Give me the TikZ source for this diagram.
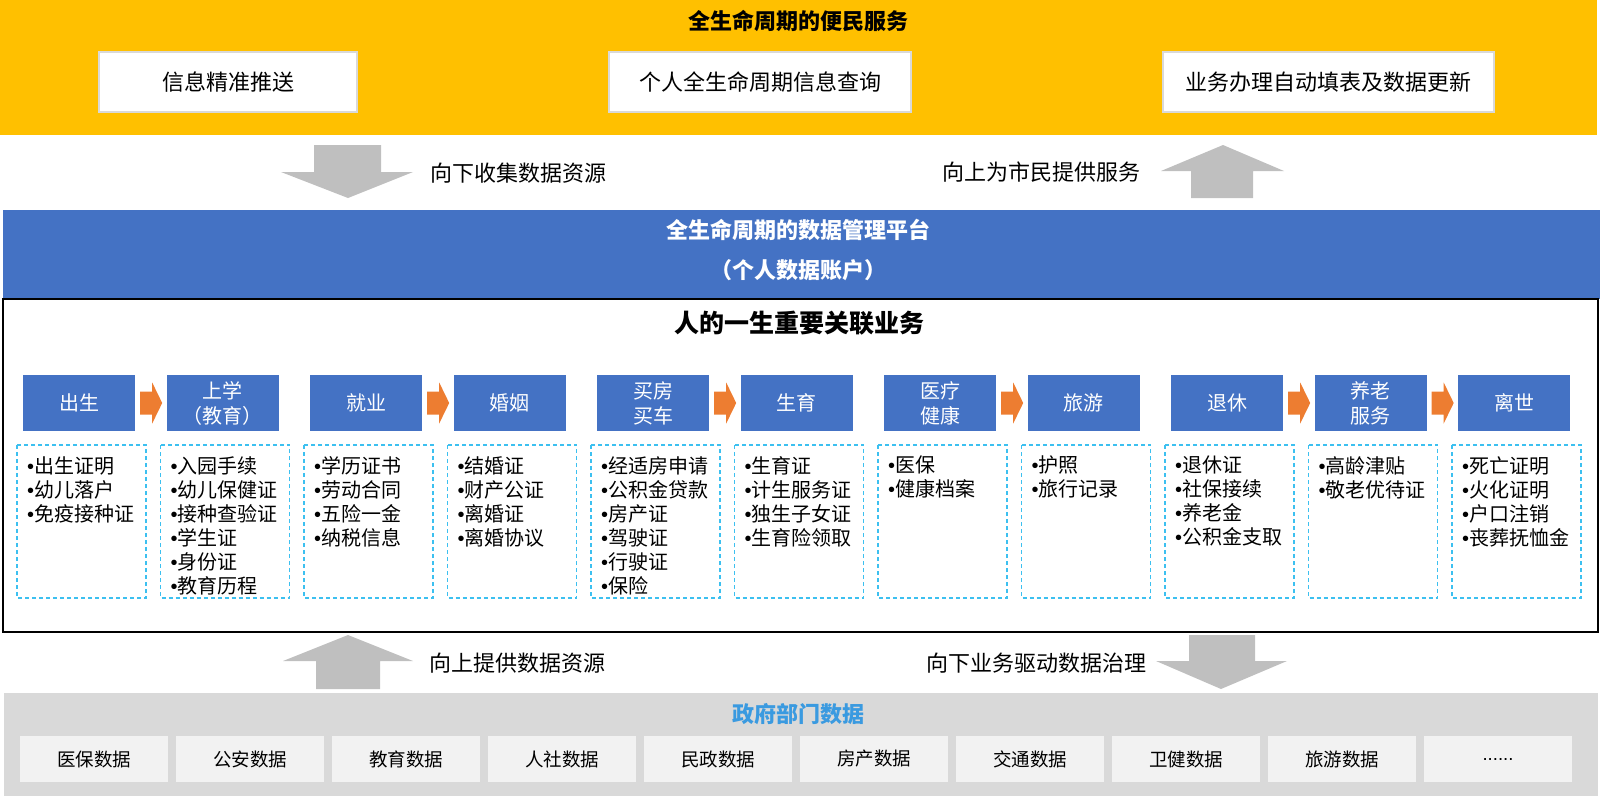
\documentclass[tikz,border=0pt]{standalone}
\usepackage{fontspec}
\setmainfont{Noto Sans CJK SC}
\newfontfamily\latinfont{Liberation Sans}
\usetikzlibrary{calc}
\definecolor{bandyellow}{HTML}{FFC000}
\definecolor{bandblue}{HTML}{4472C4}
\definecolor{flowarrow}{HTML}{ED7D31}
\definecolor{dashcyan}{HTML}{3CC0F0}
\definecolor{bandgray}{HTML}{D9D9D9}
\definecolor{boxgray}{HTML}{F2F2F2}
\definecolor{bigarrow}{HTML}{BFBFBF}
\definecolor{govblue}{HTML}{3A9AE0}
\newcommand\moredata{{\latinfont......}}
\newcommand\itm{{\latinfont•}}
\tikzset{
  servicebox/.style={draw=bandgray, line width=2pt, fill=white, minimum height=60pt, font=\fontsize{22}{26}\selectfont},
  bandtitle/.style={font=\fontsize{22}{26}\selectfont\bfseries},
  arrowlabel/.style={font=\fontsize{22}{26}\selectfont},
  stagebox/.style={fill=bandblue, text=white, minimum width=112pt, minimum height=56pt, inner sep=0pt, align=center, font=\fontsize{20}{25}\selectfont},
  listframe/.style={draw=dashcyan, line width=1.2pt, dash pattern=on 4pt off 3pt},
  listtext/.style={anchor=north west, align=left, inner sep=0pt, font=\fontsize{20}{24}\selectfont},
  databox/.style={fill=boxgray, minimum width=148pt, minimum height=46pt, inner sep=0pt, font=\fontsize{18.5}{22}\selectfont},
  stepflow/.style={fill=flowarrow}
}
\begin{document}
\begin{tikzpicture}[x=1pt, y=-1pt]
  \useasboundingbox (0,0) rectangle (1600,796);
  % top band: services for citizens
  \fill[bandyellow] (0,0) rectangle (1597,135);
  \node[bandtitle] (toptitle) at (798,21) {全生命周期的便民服务};
  \node[servicebox, minimum width=258pt] (push) at (228,82) {信息精准推送};
  \node[servicebox, minimum width=302pt] (query) at (760,82) {个人全生命周期信息查询};
  \node[servicebox, minimum width=331pt] (fill) at (1328.5,82) {业务办理自动填表及数据更新};
  % big grey arrows, upper pair
  \fill[bigarrow] (314,145) -- (381,145) -- (381,172) -- (413,172) -- (348,198) -- (281,172) -- (314,172) -- cycle;
  \node[arrowlabel, anchor=west] (collect) at (427,173) {向下收集数据资源};
  \fill[bigarrow] (1191,198) -- (1253,198) -- (1253,171) -- (1284,171) -- (1223,145) -- (1161,171) -- (1191,171) -- cycle;
  \node[arrowlabel, anchor=east] (serve) at (1144,172) {向上为市民提供服务};
  % data platform
  \fill[bandblue] (3,210) rectangle (1600,299);
  \node[bandtitle, text=white] (platform) at (798,230) {全生命周期的数据管理平台};
  \node[bandtitle, text=white] (account) at (798,270) {（个人数据账户）};
  \draw[line width=1.5pt] (3,299) rectangle (1598,632);
  \node[font=\fontsize{25}{30}\selectfont\bfseries] (lifetitle) at (799,323) {人的一生重要关联业务};
  % life stages
  \foreach \stage [count=\i from 0] in {出生,{上学\\（教育）},就业,婚姻,{买房\\买车},生育,{医疗\\健康},旅游,退休,{养老\\服务},离世}
    \node[stagebox] (b\i) at (79+143.5*\i,403) {\stage};
  \foreach \a/\b in {0/1,2/3,4/5,6/7,8/9,9/10}
    \fill[stepflow] ($(b\a.east)+(5,-11.5)$) -- ($(b\a.east)+(17,-11.5)$) -- ($(b\a.east)+(17,-20.5)$)
      -- ($(b\a.east)+(27,0)$) -- ($(b\a.east)+(17,20.5)$) -- ($(b\a.east)+(17,11.5)$) -- ($(b\a.east)+(5,11.5)$) -- cycle;
  \foreach \items [count=\i from 0] in {
      {\itm 出生证明\\\itm 幼儿落户\\\itm 免疫接种证},
      {\itm 入园手续\\\itm 幼儿保健证\\\itm 接种查验证\\\itm 学生证\\\itm 身份证\\\itm 教育历程},
      {\itm 学历证书\\\itm 劳动合同\\\itm 五险一金\\\itm 纳税信息},
      {\itm 结婚证\\\itm 财产公证\\\itm 离婚证\\\itm 离婚协议},
      {\itm 经适房申请\\\itm 公积金贷款\\\itm 房产证\\\itm 驾驶证\\\itm 行驶证\\\itm 保险},
      {\itm 生育证\\\itm 计生服务证\\\itm 独生子女证\\\itm 生育险领取},
      {\itm 医保\\\itm 健康档案},
      {\itm 护照\\\itm 旅行记录},
      {\itm 退休证\\\itm 社保接续\\\itm 养老金\\\itm 公积金支取},
      {\itm 高龄津贴\\\itm 敬老优待证},
      {\itm 死亡证明\\\itm 火化证明\\\itm 户口注销\\\itm 丧葬抚恤金}}{
    \draw[listframe] (17+143.5*\i,445) rectangle ++(129,153);
    \node[listtext] (l\i) at (27+143.5*\i,456) {\items};
  }
  % big grey arrows, lower pair
  \fill[bigarrow] (316,689) -- (380,689) -- (380,661) -- (413,661) -- (348,635) -- (283,661) -- (316,661) -- cycle;
  \node[arrowlabel, anchor=west] (provide) at (426,663) {向上提供数据资源};
  \fill[bigarrow] (1189,635) -- (1255,635) -- (1255,661) -- (1287,661) -- (1221,689) -- (1156,661) -- (1189,661) -- cycle;
  \node[arrowlabel, anchor=east] (govern) at (1150,663) {向下业务驱动数据治理};
  % government data
  \fill[bandgray] (4,693) rectangle (1598,796);
  \node[bandtitle, text=govblue] (govtitle) at (798,714) {政府部门数据};
  \foreach \src [count=\i from 0] in {医保数据,公安数据,教育数据,人社数据,民政数据,房产数据,交通数据,卫健数据,旅游数据,\moredata}
    \node[databox] (d\i) at (94+156*\i,759) {\src};
\end{tikzpicture}
\end{document}
